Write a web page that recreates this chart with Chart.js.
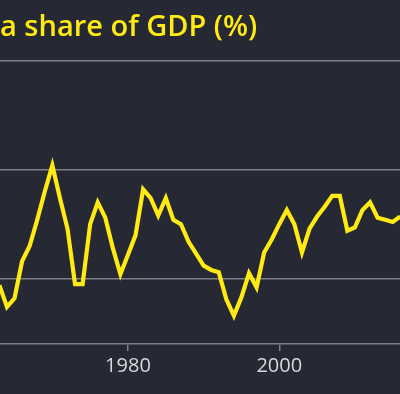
<!DOCTYPE html>
<html>
<head>
<meta charset="utf-8">
<script src="https://cdn.jsdelivr.net/npm/chart.js@4"></script>
<style>
    html, body { margin: 0; padding: 0; background: #262933; }
    #wrap { position: relative; width: 400px; height: 394px; }
</style>
</head>
<body>
<div id="wrap"><canvas id="gdpChart"></canvas></div>
<script>
// share of GDP (%)
const years = [1963, 1964, 1965, 1966, 1967, 1968, 1969, 1970, 1971, 1972,
    1973, 1974, 1975, 1976, 1977, 1978, 1979, 1980, 1981, 1982,
    1983, 1984, 1985, 1986, 1987, 1988, 1989, 1990, 1991, 1992,
    1993, 1994, 1995, 1996, 1997, 1998, 1999, 2000, 2001, 2002,
    2003, 2004, 2005, 2006, 2007, 2008, 2009, 2010, 2011, 2012,
    2013, 2014, 2015, 2016];
const shareValues = [19.7, 18.7, 19.1, 20.8, 21.5, 22.7, 24.0, 25.2, 23.7, 22.3,
    19.75, 19.75, 22.5, 23.5, 22.8, 21.4, 20.2, 21.1, 22.0, 24.1,
    23.7, 22.9, 23.7, 22.7, 22.5, 21.7, 21.15, 20.6, 20.4, 20.3,
    19.05, 18.3, 19.15, 20.25, 19.6, 21.2, 21.8, 22.5, 23.15, 22.5,
    21.2, 22.3, 22.85, 23.3, 23.8, 23.8, 22.2, 22.35, 23.15, 23.5,
    22.8, 22.7, 22.6, 22.85];
const tickYears = [1980, 2000];
const gridValues = [20, 25, 30];

const yellow = '#ffea14';
const grey = '#7d8088';

new Chart(document.getElementById('gdpChart'), {
    type: 'line',
    data: {
        datasets: [{
            data: years.map((y, i) => ({ x: y, y: shareValues[i] })),
            borderColor: yellow,
            borderWidth: 4.2,
            pointRadius: 0,
            tension: 0
        }]
    },
    options: {
        responsive: true,
        maintainAspectRatio: false,
        animation: false,
        layout: { padding: { left: 0, right: 0, top: 0, bottom: 13 } },
        plugins: {
            legend: { display: false },
            tooltip: { enabled: false },
            title: {
                display: true,
                text: 'a share of GDP (%)',
                align: 'start',
                color: yellow,
                font: { family: '"Open Sans"', size: 29, weight: '600', lineHeight: 1.2 },
                padding: { top: 10, bottom: 16 }
            }
        },
        scales: {
            x: {
                type: 'linear',
                min: 1963.08,
                max: 2015.96,
                afterBuildTicks: (scale) => { scale.ticks = tickYears.map(v => ({ value: v })); },
                grid: { drawOnChartArea: false, drawTicks: true, tickLength: 7, color: grey, lineWidth: 1.5 },
                border: { display: true, color: grey, width: 1.5 },
                ticks: {
                    color: '#d6d8dd',
                    padding: 3,
                    font: { family: '"Open Sans"', size: 20 },
                    callback: (v) => String(v)
                }
            },
            y: {
                min: 17,
                max: 30,
                afterBuildTicks: (scale) => { scale.ticks = gridValues.map(v => ({ value: v })); },
                grid: { color: grey, lineWidth: 1.5, drawTicks: false },
                border: { display: false },
                ticks: { display: false }
            }
        }
    }
});
</script>
</body>
</html>
